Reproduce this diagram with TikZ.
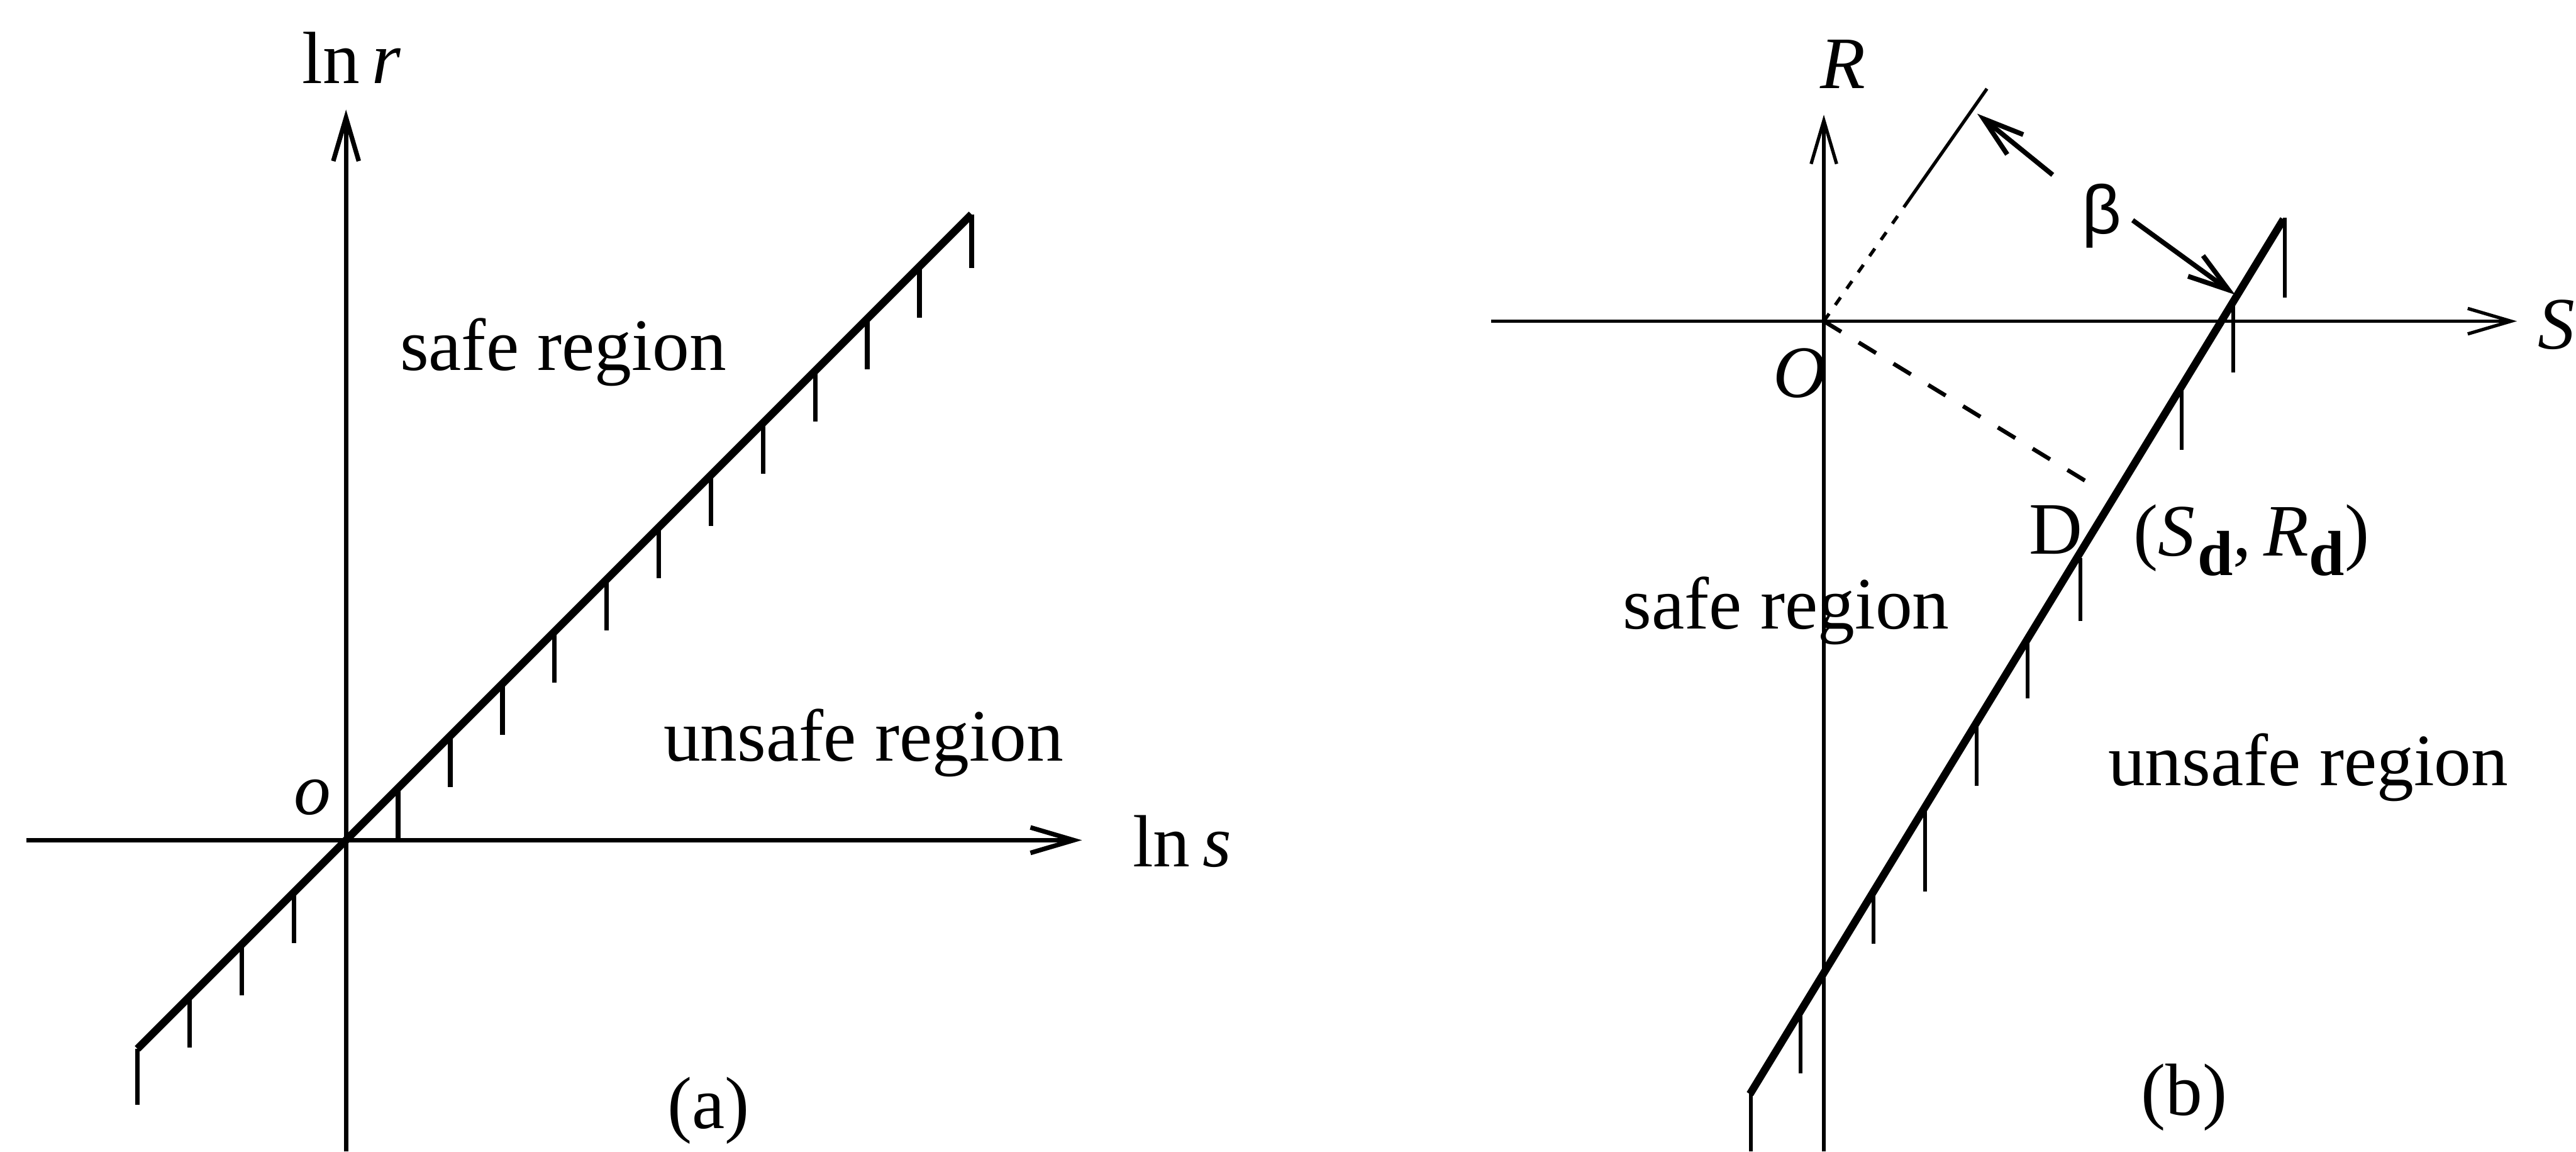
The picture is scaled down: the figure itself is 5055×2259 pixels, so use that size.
\documentclass[tikz,border=0pt]{standalone}
\usepackage{fontspec}
\setmainfont{Liberation Serif}
\newfontfamily\betafont{Liberation Sans}
\usetikzlibrary{arrows.meta}
\newcommand{\subd}{\raisebox{-7.6pt}{\fontsize{25}{30}\selectfont\textbf{d}}}
\begin{document}
\begin{tikzpicture}[x=0.2pt,y=-0.2pt,
  lbl/.style={inner sep=0pt,outer sep=0pt,anchor=base west,font=\fontsize{29}{34}\selectfont},
  axisA/.style={line width=1.8pt,-{Straight Barb[length=17pt,width=10pt]}},
  axisB/.style={line width=1.3pt,-{Straight Barb[length=17pt,width=10pt]}},
  limit/.style={line width=3pt},
  tickA/.style={line width=1.8pt},
  tickB/.style={line width=1.5pt},
  betaarrow/.style={line width=1.9pt,-{Straight Barb[length=16pt,width=10pt]}},
  perp/.style={line width=1.6pt,dash pattern=on 8pt off 8pt},
  dotline/.style={line width=1.3pt,dash pattern=on 3.6pt off 4.2pt},
  thinline/.style={line width=1.3pt}
]
\useasboundingbox (0,0) rectangle (5055,2259);

% ---------------- panel (a) ----------------
\coordinate (Oa) at (679,1648);
\coordinate (aYbot) at (679,2259);
\coordinate (aYtop) at (679,215);
\coordinate (aXl) at (52,1648);
\coordinate (aXr) at (2123,1648);
\coordinate (aL1) at ({679-102.3*4},{1648+102.3*4});
\coordinate (aL2) at ({679+102.3*12},{1648-102.3*12});

\draw[axisA] (aYbot) -- (aYtop);
\draw[axisA] (aXl) -- (aXr);
\foreach \k in {-3,-2,-1,1,2,3,4,5,6,7,8,9,10,11}
  \draw[tickA] ({679+102.3*\k},{1648-102.3*\k}) -- ++(0,100);
\draw[tickA] (aL1) -- ++(0,110);
\draw[tickA] (aL2) -- ++(0,105);
\draw[limit] (aL1) -- (aL2);

\node[lbl] (lnr) at (593,163) {ln\,\textit{r}};
\node[lbl] (lns) at (2223,1700) {ln\,\textit{s}};
\node[lbl] (oa) at (577,1597) {\textit{o}};
\node[lbl] (safeA) at (785,726) {safe region};
\node[lbl] (unsafeA) at (1302,1493) {unsafe region};
\node[lbl] (capA) at (1310,2213) {(a)};

% ---------------- panel (b) ----------------
\coordinate (Ob) at (3579,630);
\coordinate (bYbot) at (3579,2259);
\coordinate (bYtop) at (3579,225);
\coordinate (bXl) at (2926,630);
\coordinate (bXr) at (4939,630);
\coordinate (bL1) at (3434,2146);
\coordinate (bL2) at (4481,430);
\coordinate (Dend) at (4100,948);
\coordinate (Pmid) at (3737,405);
\coordinate (Ptop) at (3899,174);
\coordinate (b1tail) at (4028,343);
\coordinate (b1tip) at (3880,223);
\coordinate (b2tail) at (4185,432);
\coordinate (b2tip) at (4386,578);

\draw[axisB] (bYbot) -- (bYtop);
\draw[axisB] (bXl) -- (bXr);
\draw[tickB] (3435.6,2143) -- (3435.6,2259);
\draw[tickB] (3533,1985) -- (3533,2105);
\draw[tickB] (3677,1748) -- (3677,1851);
\draw[tickB] (3778,1582) -- (3778,1749);
\draw[tickB] (3878.5,1418) -- (3878.5,1541);
\draw[tickB] (3979,1253) -- (3979,1370);
\draw[tickB] (4082,1095) -- (4082,1218);
\draw[tickB] (4281,758) -- (4281,882);
\draw[tickB] (4382,592) -- (4382,730);
\draw[tickB] (4483,427) -- (4483,584);
\draw[limit] (bL1) -- (bL2);

\draw[perp] (Ob) -- (Dend);
\draw[dotline] (Ob) -- (Pmid);
\draw[thinline] (Pmid) -- (Ptop);
\draw[betaarrow] (b1tail) -- (b1tip);
\draw[betaarrow] (b2tail) -- (b2tip);

\node[lbl] (Rl) at (3572,173) {\textit{R}};
\node[lbl] (Sl) at (4980,684) {\textit{S}};
\node[lbl] (Ol) at (3480,779) {\textit{O}};
\node[lbl,font=\betafont\fontsize{27}{32}\selectfont] (beta) at (4085,458) {β};
\node[lbl] (Dl) at (3982,1086) {D};
\node[lbl] (sdrd) at (4187,1090) {(\textit{S}\kern1pt\subd,\,\textit{R}\subd)};
\node[lbl] (safeB) at (3185,1234) {safe region};
\node[lbl] (unsafeB) at (4137,1541) {unsafe region};
\node[lbl] (capB) at (4202,2187) {(b)};
\end{tikzpicture}
\end{document}
